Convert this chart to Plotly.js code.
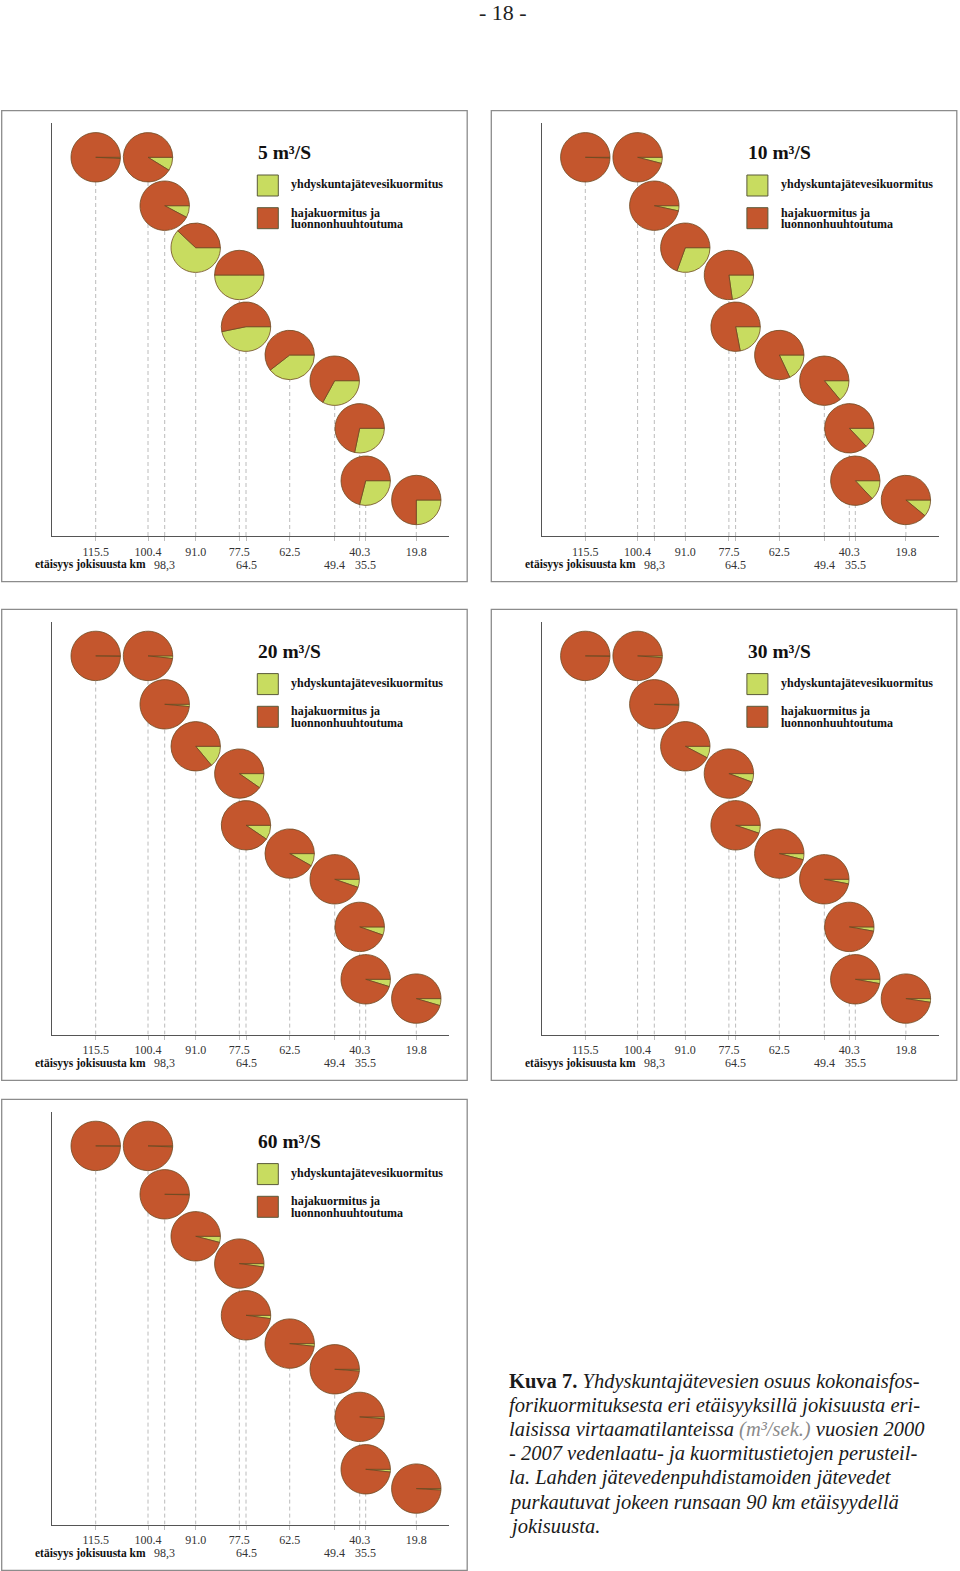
<!DOCTYPE html>
<html><head><meta charset="utf-8">
<script src="https://cdn.plot.ly/plotly-3.0.1.min.js"></script>
<style>html,body{margin:0;padding:0;background:#fff}#chart{width:960px;height:1571px}</style>
</head><body><div id="chart"></div>
<script>
// ---------------- data ----------------
const stationKm = ['115.5','100.4','98,3','91.0','77.5','64.5','62.5','49.4','40.3','35.5','19.8'];
const flowLabels = ['5','10','20','30','60'];
const seriesNames = ['yhdyskuntajätevesikuormitus', 'hajakuormitus ja luonnonhuuhtoutuma'];
// share (%) of municipal wastewater load of total phosphorus load at each station
const share5  = [0.8, 8.8, 7.8, 62.0, 50.0, 46.8, 39.5, 33.0, 28.3, 29.0, 25.0];
const share10 = [0.5, 4.0, 3.4, 30.5, 22.8, 22.0, 18.0, 14.0, 13.0, 13.0, 11.0];
const share20 = [0.3, 1.7, 1.5, 14.0, 9.7, 9.5, 8.2, 5.3, 5.4, 4.8, 4.6];
const share30 = [0.3, 1.2, 0.7, 7.7, 5.6, 5.2, 4.0, 3.0, 2.8, 2.8, 2.4];
const share60 = [0.2, 0.7, 0.4, 4.0, 2.2, 2.2, 1.8, 1.2, 1.3, 1.8, 1.0];
const axisLabel = 'etäisyys jokisuusta km';
const captionLines = [
  '<b>Kuva 7.</b> <i>Yhdyskuntajätevesien osuus kokonaisfos-</i>',
  '<i>forikuormituksesta eri etäisyyksillä jokisuusta eri-</i>',
  '<i>laisissa virtaamatilanteissa <span style="color:#8a8a8a">(m³/sek.)</span> vuosien 2000</i>',
  '<i>- 2007 vedenlaatu- ja kuormitustietojen perusteil-</i>',
  '<i>la. Lahden jätevedenpuhdistamoiden jätevedet</i>',
  '<i>purkautuvat jokeen runsaan 90 km etäisyydellä</i>',
  '<i>jokisuusta.</i>'
];
const pageNumber = '- 18 -';

// ---------------- layout (schematic positions, sizes, styles) ----------------
const W = 960, H = 1571;
const shares = [share5, share10, share20, share30, share60];
const slotX = [43.4, 95.7, 112.4, 143.4, 187, 193.7, 237.4, 282.4, 307.4, 313.4, 364];   // schematic slot on axis
const pieLevel = [378.7, 378.7, 330.3, 288.3, 261, 209.3, 181, 155.3, 107.7, 55.3, 36]; // schematic height above axis
const labelRow = [0,0,1,0,0,1,0,1,0,1,0];
const R = 24.7;
const panels = [{l:1.7,t:110.7},{l:491.3,t:110.7},{l:1.7,t:609.3},{l:491.3,t:609.3},{l:1.7,t:1099.3}];
const PW = 465.5, PH = 471;
const AX = {l:50.6, r:447.6, top:12.6, bottom:425.3};
const XR = AX.r - AX.l, YR = AX.bottom - AX.top;
const GREEN = '#C8DC60', RED = '#C4562D', EDGE = '#6e4a22';
const SERIF = 'Liberation Serif, Times New Roman, serif';

const px = x => x / W;
const py = y => 1 - y / H;

const traces = [];
const shapes = [];
const annotations = [];
const layout = {
  width: W, height: H, margin: {l:0, r:0, t:0, b:0},
  paper_bgcolor: '#fff', plot_bgcolor: 'rgba(0,0,0,0)',
  showlegend: false, font: {family: SERIF, color: '#222'}
};

const topIdx = labelRow.map((r, i) => r ? -1 : i).filter(i => i >= 0);
const lowIdx = labelRow.map((r, i) => r ? i : -1).filter(i => i >= 0);

panels.forEach((p, k) => {
  const n = k === 0 ? '' : String(k + 1);
  const xd = [px(p.l + AX.l), px(p.l + AX.r)];
  const yd = [py(p.t + AX.bottom), py(p.t + AX.top)];
  layout['xaxis' + n] = {
    domain: xd, range: [0, XR], anchor: 'y' + n,
    showline: true, linecolor: '#555', linewidth: 1.2,
    showgrid: false, zeroline: false, fixedrange: true,
    tickmode: 'array', tickvals: topIdx.map(i => slotX[i]), ticktext: topIdx.map(i => stationKm[i]),
    ticks: 'outside', ticklen: 4, tickcolor: '#bdbdbd', tickwidth: 1,
    minor: {tickmode: 'array', tickvals: lowIdx.map(i => slotX[i]), ticks: 'outside', ticklen: 4,
            tickcolor: '#bdbdbd', tickwidth: 1, showgrid: false},
    tickangle: 0, tickfont: {family: SERIF, size: 12, color: '#333'}
  };
  layout['yaxis' + n] = {
    domain: yd, range: [0, YR], anchor: 'x' + n,
    showline: true, linecolor: '#555', linewidth: 1.2,
    showgrid: false, zeroline: false, showticklabels: false, ticks: '', fixedrange: true
  };
  // second row of distance labels
  lowIdx.forEach(i => annotations.push({
    xref: 'x' + n, yref: 'paper', x: slotX[i], y: py(p.t + 454), xanchor: 'center', yanchor: 'middle',
    showarrow: false, text: stationKm[i], font: {family: SERIF, size: 12, color: '#333'}
  }));
  // dashed drop lines from axis to each pie
  slotX.forEach((sx, i) => {
    traces.push({
      type: 'scatter', mode: 'lines', xaxis: 'x' + n, yaxis: 'y' + n,
      x: [sx, sx], y: [0, pieLevel[i] - R],
      line: {color: '#bcbcbc', width: 1, dash: '4px,3px'}, hoverinfo: 'skip'
    });
  });
  // pies
  shares[k].forEach((s, i) => {
    const cx = xd[0] + slotX[i] / XR * (xd[1] - xd[0]);
    const cy = yd[0] + pieLevel[i] / YR * (yd[1] - yd[0]);
    traces.push({
      type: 'pie', values: [s, 100 - s], labels: seriesNames,
      name: stationKm[i] + ' km',
      domain: {x: [cx - R / W, cx + R / W], y: [cy - R / H, cy + R / H]},
      sort: false, direction: 'clockwise', rotation: 90,
      marker: {colors: [GREEN, RED], line: {color: EDGE, width: 0.8}},
      textinfo: 'none', hoverinfo: 'label+percent+name', showlegend: false
    });
  });
  // panel frame
  shapes.push({type: 'rect', xref: 'paper', yref: 'paper',
    x0: px(p.l), x1: px(p.l + PW), y0: py(p.t + PH), y1: py(p.t),
    line: {color: '#8c8c8c', width: 1.3}, fillcolor: 'rgba(0,0,0,0)', layer: 'below'});
  // legend squares
  [[64.3, GREEN], [97, RED]].forEach(([ty, c]) => {
    shapes.push({type: 'rect', xref: 'paper', yref: 'paper',
      x0: px(p.l + 255.6), x1: px(p.l + 276.6), y0: py(p.t + ty + 21), y1: py(p.t + ty),
      line: {color: '#5a5a3a', width: 1}, fillcolor: c});
  });
  const ann = (rx, ry, text, size, xanchor) => annotations.push({
    xref: 'paper', yref: 'paper', x: px(p.l + rx), y: py(p.t + ry),
    xanchor: xanchor, yanchor: 'middle', showarrow: false, text: text,
    font: {family: SERIF, size: size, color: '#111'}
  });
  ann(254.5, 42, '<b>' + flowLabels[k] + ' m³/S</b>', 19.5, 'left');
  ann(287.5, 73.6, '<b>' + seriesNames[0] + '</b>', 12, 'left');
  ann(287.5, 102, '<b>hajakuormitus ja</b>', 12, 'left');
  ann(287.5, 113.6, '<b>luonnonhuuhtoutuma</b>', 12, 'left');
  ann(146.5, 454, '<b>' + axisLabel + '</b>', 11.5, 'right');
});

// page number
annotations.push({xref: 'paper', yref: 'paper', x: px(503), y: py(12), xanchor: 'center', yanchor: 'middle',
  showarrow: false, text: pageNumber, font: {family: SERIF, size: 22, color: '#222'}});
// caption
captionLines.forEach((t, i) => annotations.push({
  xref: 'paper', yref: 'paper', x: px(507), y: py(1381 + i * 24.2), xanchor: 'left', yanchor: 'middle',
  showarrow: false, text: t, font: {family: SERIF, size: 20.5, color: '#1a1a1a'}
}));

layout.shapes = shapes;
layout.annotations = annotations;
Plotly.newPlot('chart', traces, layout, {displayModeBar: false});
</script>
</body></html>
